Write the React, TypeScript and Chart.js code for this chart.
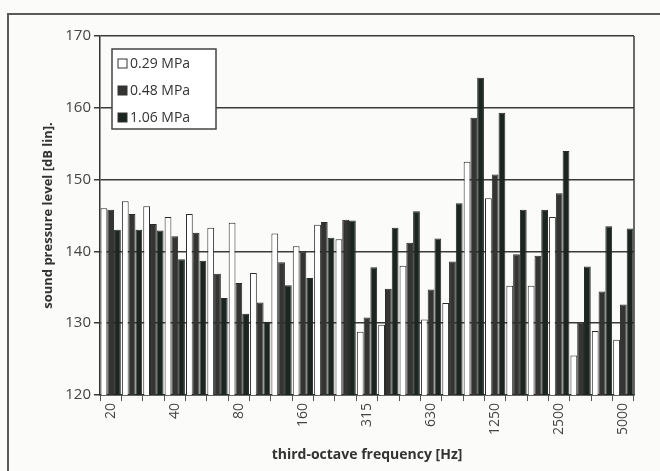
import React, { useEffect, useRef } from 'react';
import { Chart, registerables } from 'chart.js';

Chart.register(...registerables);

const frequencies = ['20', '25', '31.5', '40', '50', '63', '80', '100', '125', '160', '200', '250', '315', '400', '500', '630', '800', '1000', '1250', '1600', '2000', '2500', '3150', '4000', '5000'];
const shownTickLabels = ['20', '40', '80', '160', '315', '630', '1250', '2500', '5000'];
const seriesNames = ['0.29 MPa', '0.48 MPa', '1.06 MPa'];
const spl029 = [146, 147, 146.3, 144.8, 145.2, 143.3, 144, 137, 142.5, 140.7, 143.7, 141.7, 128.8, 129.8, 138, 130.5, 132.8, 152.5, 147.4, 135.2, 135.2, 144.8, 125.5, 128.9, 127.7];
const spl048 = [145.8, 145.2, 143.8, 142.1, 142.6, 136.9, 135.6, 132.9, 138.5, 140, 144.1, 144.4, 130.8, 134.8, 141.2, 134.7, 138.6, 158.6, 150.7, 139.6, 139.4, 148.1, 130.1, 134.4, 132.6];
const spl106 = [143, 143, 142.9, 138.9, 138.7, 133.5, 131.3, 130.2, 135.3, 136.3, 141.9, 144.3, 137.8, 143.3, 145.6, 141.8, 146.7, 164.2, 159.3, 145.8, 145.8, 154, 137.9, 143.5, 143.2];
const yMin = 120;
const yMax = 170;
const yStep = 10;

const FONT = "'Open Sans', 'Liberation Sans', sans-serif";
const fills = ['#ffffff', '#343532', '#1b2621'];

const framePlugin = {
  id: 'frameAndLegend',
  afterDatasetsDraw(chart: any) {
    const { ctx, chartArea } = chart;
    ctx.save();
    // right border of plot
    ctx.strokeStyle = '#3a3a3a';
    ctx.lineWidth = 1.5;
    ctx.beginPath();
    ctx.moveTo(chartArea.right, chartArea.top);
    ctx.lineTo(chartArea.right, chartArea.bottom);
    ctx.stroke();

    // legend box
    const bx = chartArea.left + 12;
    const by = chartArea.top + 13;
    const bw = 104;
    const bh = 80;
    ctx.fillStyle = '#ffffff';
    ctx.fillRect(bx, by, bw, bh);
    ctx.strokeStyle = '#444';
    ctx.lineWidth = 1.5;
    ctx.strokeRect(bx, by, bw, bh);
    ctx.font = `14px ${FONT}`;
    ctx.textBaseline = 'middle';
    ctx.textAlign = 'left';
    chart.data.datasets.forEach((ds: any, i: number) => {
      const cy = by + 15 + i * 27;
      ctx.fillStyle = ds.backgroundColor;
      ctx.fillRect(bx + 6, cy - 5, 9, 9);
      ctx.strokeStyle = '#333';
      ctx.lineWidth = 1;
      ctx.strokeRect(bx + 6, cy - 5, 9, 9);
      ctx.fillStyle = '#333';
      ctx.fillText(ds.label, bx + 18, cy);
    });
    ctx.restore();
  },
};

export default function App() {
  const canvasRef = useRef<HTMLCanvasElement | null>(null);

  useEffect(() => {
    if (!canvasRef.current) return;
    const seriesValues = [spl029, spl048, spl106];
    const chart = new Chart(canvasRef.current, {
      type: 'bar',
      data: {
        labels: frequencies,
        datasets: seriesNames.map((name, i) => ({
          label: name,
          data: seriesValues[i],
          backgroundColor: fills[i],
          borderColor: '#2a2a2a',
          borderWidth: 1,
          categoryPercentage: 0.95,
          barPercentage: 1.0,
        })),
      },
      options: {
        responsive: false,
        devicePixelRatio: 1,
        animation: false,
        layout: { padding: { left: 38, right: 26, top: 36, bottom: 6 } },
        plugins: {
          legend: { display: false },
          tooltip: { enabled: false },
        },
        scales: {
          x: {
            grid: { display: true, drawOnChartArea: false, drawTicks: true, tickLength: 6, color: '#555', offset: true },
            border: { display: true, color: '#333', width: 1.5 },
            ticks: {
              autoSkip: false,
              maxRotation: 90,
              minRotation: 90,
              padding: 2,
              color: '#444',
              font: { family: FONT, size: 14 },
              callback: (_v: any, i: number) => (shownTickLabels.includes(frequencies[i]) ? frequencies[i] : ''),
            },
            title: {
              display: true,
              text: 'third-octave frequency [Hz]',
              color: '#333',
              font: { family: FONT, size: 14, weight: 'bold' },
              padding: { top: 0, bottom: 2 },
            },
            afterFit: (scale: any) => {
              scale.height = 70;
            },
          },
          y: {
            min: yMin,
            max: yMax,
            ticks: {
              stepSize: yStep,
              padding: 3,
              color: '#444',
              font: { family: FONT, size: 15 },
            },
            grid: { color: '#3a3a3a', lineWidth: 1.5, tickLength: 6 },
            border: { display: true, color: '#333', width: 1.5 },
            title: {
              display: true,
              text: 'sound pressure level [dB lin].',
              color: '#333',
              font: { family: FONT, size: 13, weight: 'bold' },
              padding: { top: 2, bottom: 2 },
            },
            afterFit: (scale: any) => {
              scale.width = 62;
            },
          },
        },
      },
      plugins: [framePlugin],
    });
    return () => chart.destroy();
  }, []);

  return (
    <div style={{ position: 'absolute', left: 0, top: 0, width: 660, height: 471, overflow: 'hidden', background: '#fbfbfa' }}>
      <div
        style={{
          position: 'absolute',
          left: 7,
          top: 13,
          width: 700,
          height: 500,
          borderTop: '2px solid #5a5a5a',
          borderLeft: '2px solid #5a5a5a',
        }}
      />
      <canvas ref={canvasRef} width={660} height={471} style={{ position: 'absolute', left: 0, top: 0, width: 660, height: 471 }} />
    </div>
  );
}
